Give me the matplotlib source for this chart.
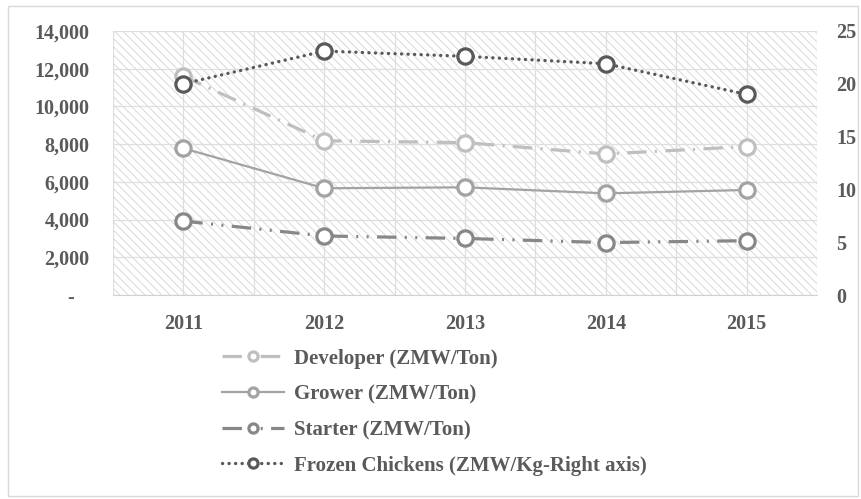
import matplotlib.pyplot as plt
import numpy as np
from matplotlib.patches import Rectangle

plt.rcParams['font.family'] = ['Liberation Serif', 'DejaVu Serif']
plt.rcParams['font.weight'] = 'bold'
plt.rcParams['lines.scale_dashes'] = False
plt.rcParams['hatch.linewidth'] = 0.7

years = ['2011', '2012', '2013', '2014', '2015']
developer = [11600, 8180, 8080, 7480, 7870]
grower = [7780, 5660, 5710, 5390, 5570]
starter = [3920, 3130, 3000, 2780, 2880]
frozen = [20.0, 23.1, 22.6, 21.9, 19.0]

left_ticks = [0, 2000, 4000, 6000, 8000, 10000, 12000, 14000]
left_labels = ['-   ', '2,000', '4,000', '6,000', '8,000', '10,000', '12,000', '14,000']
right_ticks = [0, 5, 10, 15, 20, 25]

txt = '#5a5a5a'
x = np.arange(len(years))

fig = plt.figure(figsize=(8.61, 4.99), dpi=100)
fig.patches.append(Rectangle((0.009, 0.006), 0.988, 0.982, transform=fig.transFigure,
                             fill=False, ec='#d9d9d9', lw=1))
ax = fig.add_axes([0.1312, 0.4088, 0.8177, 0.5291])
ax.patch.set_visible(False)
ax.add_patch(Rectangle((0, 0), 1, 1, transform=ax.transAxes, facecolor='white',
                       edgecolor='#d8d8d8', hatch='\\\\\\\\', lw=0, zorder=0))

mk = dict(marker='o', markersize=11, markerfacecolor='white', markeredgewidth=2.3)
l1, = ax.plot(x, developer, color='#bfbfbf', lw=2.3, dashes=(14, 6, 1.5, 6), label='Developer (ZMW/Ton)', zorder=3, **mk)
l2, = ax.plot(x, grower, color='#a3a3a3', lw=1.6, label='Grower (ZMW/Ton)', zorder=3, **mk)
l3, = ax.plot(x, starter, color='#878787', lw=2.3, dashes=(14, 6, 1.5, 6, 1.5, 6), label='Starter (ZMW/Ton)', zorder=3, **mk)

ax.set_xlim(-0.5, 4.5)
ax.set_ylim(0, 14000)
ax.set_yticks(left_ticks)
ax.set_yticklabels(left_labels)
ax.set_xticks(x)
ax.set_xticklabels(years)
ax.set_xticks(np.arange(-0.5, 5, 1), minor=True)
ax.grid(True, which='both', color='#dedede', lw=0.9, zorder=1)
ax.set_axisbelow(True)
ax.tick_params(which='both', length=0, labelsize=14.5, labelcolor=txt)
ax.tick_params(axis='y', pad=17)
ax.tick_params(axis='x', pad=14)
for s in ['top', 'left', 'right']:
    ax.spines[s].set_visible(False)
ax.spines['bottom'].set_color('#d0d0d0')

ax2 = ax.twinx()
l4, = ax2.plot(x, frozen, color='#595959', lw=2.4, dashes=(0.1, 4.6), dash_capstyle='round',
               label='Frozen Chickens (ZMW/Kg-Right axis)', zorder=3, **mk)
ax2.set_ylim(0, 25)
ax2.set_yticks(right_ticks)
ax2.tick_params(length=0, labelsize=14.5, labelcolor=txt, pad=14)
for s in ax2.spines.values():
    s.set_visible(False)

fig.legend(handles=[l1, l2, l3, l4], loc='center left', bbox_to_anchor=(0.236, 0.174),
           frameon=False, fontsize=15, labelcolor=txt, handlelength=3.0, markerscale=0.6,
           labelspacing=0.75, handletextpad=0.45)

fig.savefig('out.png', dpi=100)
